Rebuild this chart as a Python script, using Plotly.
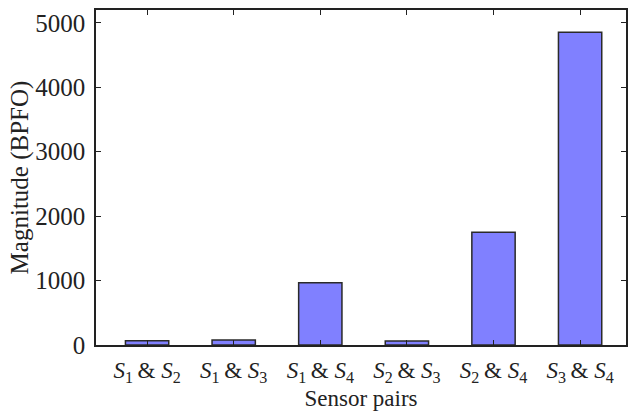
import plotly.graph_objects as go

# Sensor pair labels (italic S with subscript indices)
pairs = [(1, 2), (1, 3), (1, 4), (2, 3), (2, 4), (3, 4)]
categories = [f"<i>S</i><sub>{a}</sub>\u2009&amp; <i>S</i><sub>{b}</sub>" for a, b in pairs]
magnitudes = [67, 78, 967, 62, 1750, 4855]
y_ticks = [0, 1000, 2000, 3000, 4000, 5000]

serif = "Liberation Serif, Times New Roman, Times, serif"
ink = "#222222"

fig = go.Figure(
    go.Bar(
        x=list(range(len(categories))),
        y=magnitudes,
        width=0.5,
        marker=dict(color="#8080FF", line=dict(color="#2a2a2a", width=1.5)),
    )
)

fig.update_layout(
    width=629,
    height=413,
    margin=dict(l=96, r=1, t=10, b=68),
    plot_bgcolor="white",
    paper_bgcolor="white",
    font=dict(family=serif, size=24, color=ink),
    showlegend=False,
)

fig.update_xaxes(
    range=[-0.59, 5.53],
    tickmode="array",
    tickvals=list(range(len(categories))),
    ticktext=categories,
    tickfont=dict(family=serif, size=23, color=ink),
    ticks="inside",
    ticklen=5,
    tickcolor=ink,
    showline=True,
    linecolor=ink,
    linewidth=1.5,
    mirror="ticks",
    showgrid=False,
    zeroline=False,
    ticklabelstandoff=4,
    title=dict(text="Sensor pairs", font=dict(family=serif, size=23, color=ink), standoff=4),
)

fig.update_yaxes(
    range=[0, 5200],
    tickmode="array",
    tickvals=y_ticks,
    tickfont=dict(family=serif, size=25, color=ink),
    ticks="inside",
    ticklen=5,
    tickcolor=ink,
    showline=True,
    linecolor=ink,
    linewidth=1.5,
    mirror="ticks",
    showgrid=False,
    zeroline=False,
    ticklabelstandoff=4,
    title=dict(text="Magnitude (BPFO)", font=dict(family=serif, size=25, color=ink), standoff=0),
)

fig.write_html("out.html")
